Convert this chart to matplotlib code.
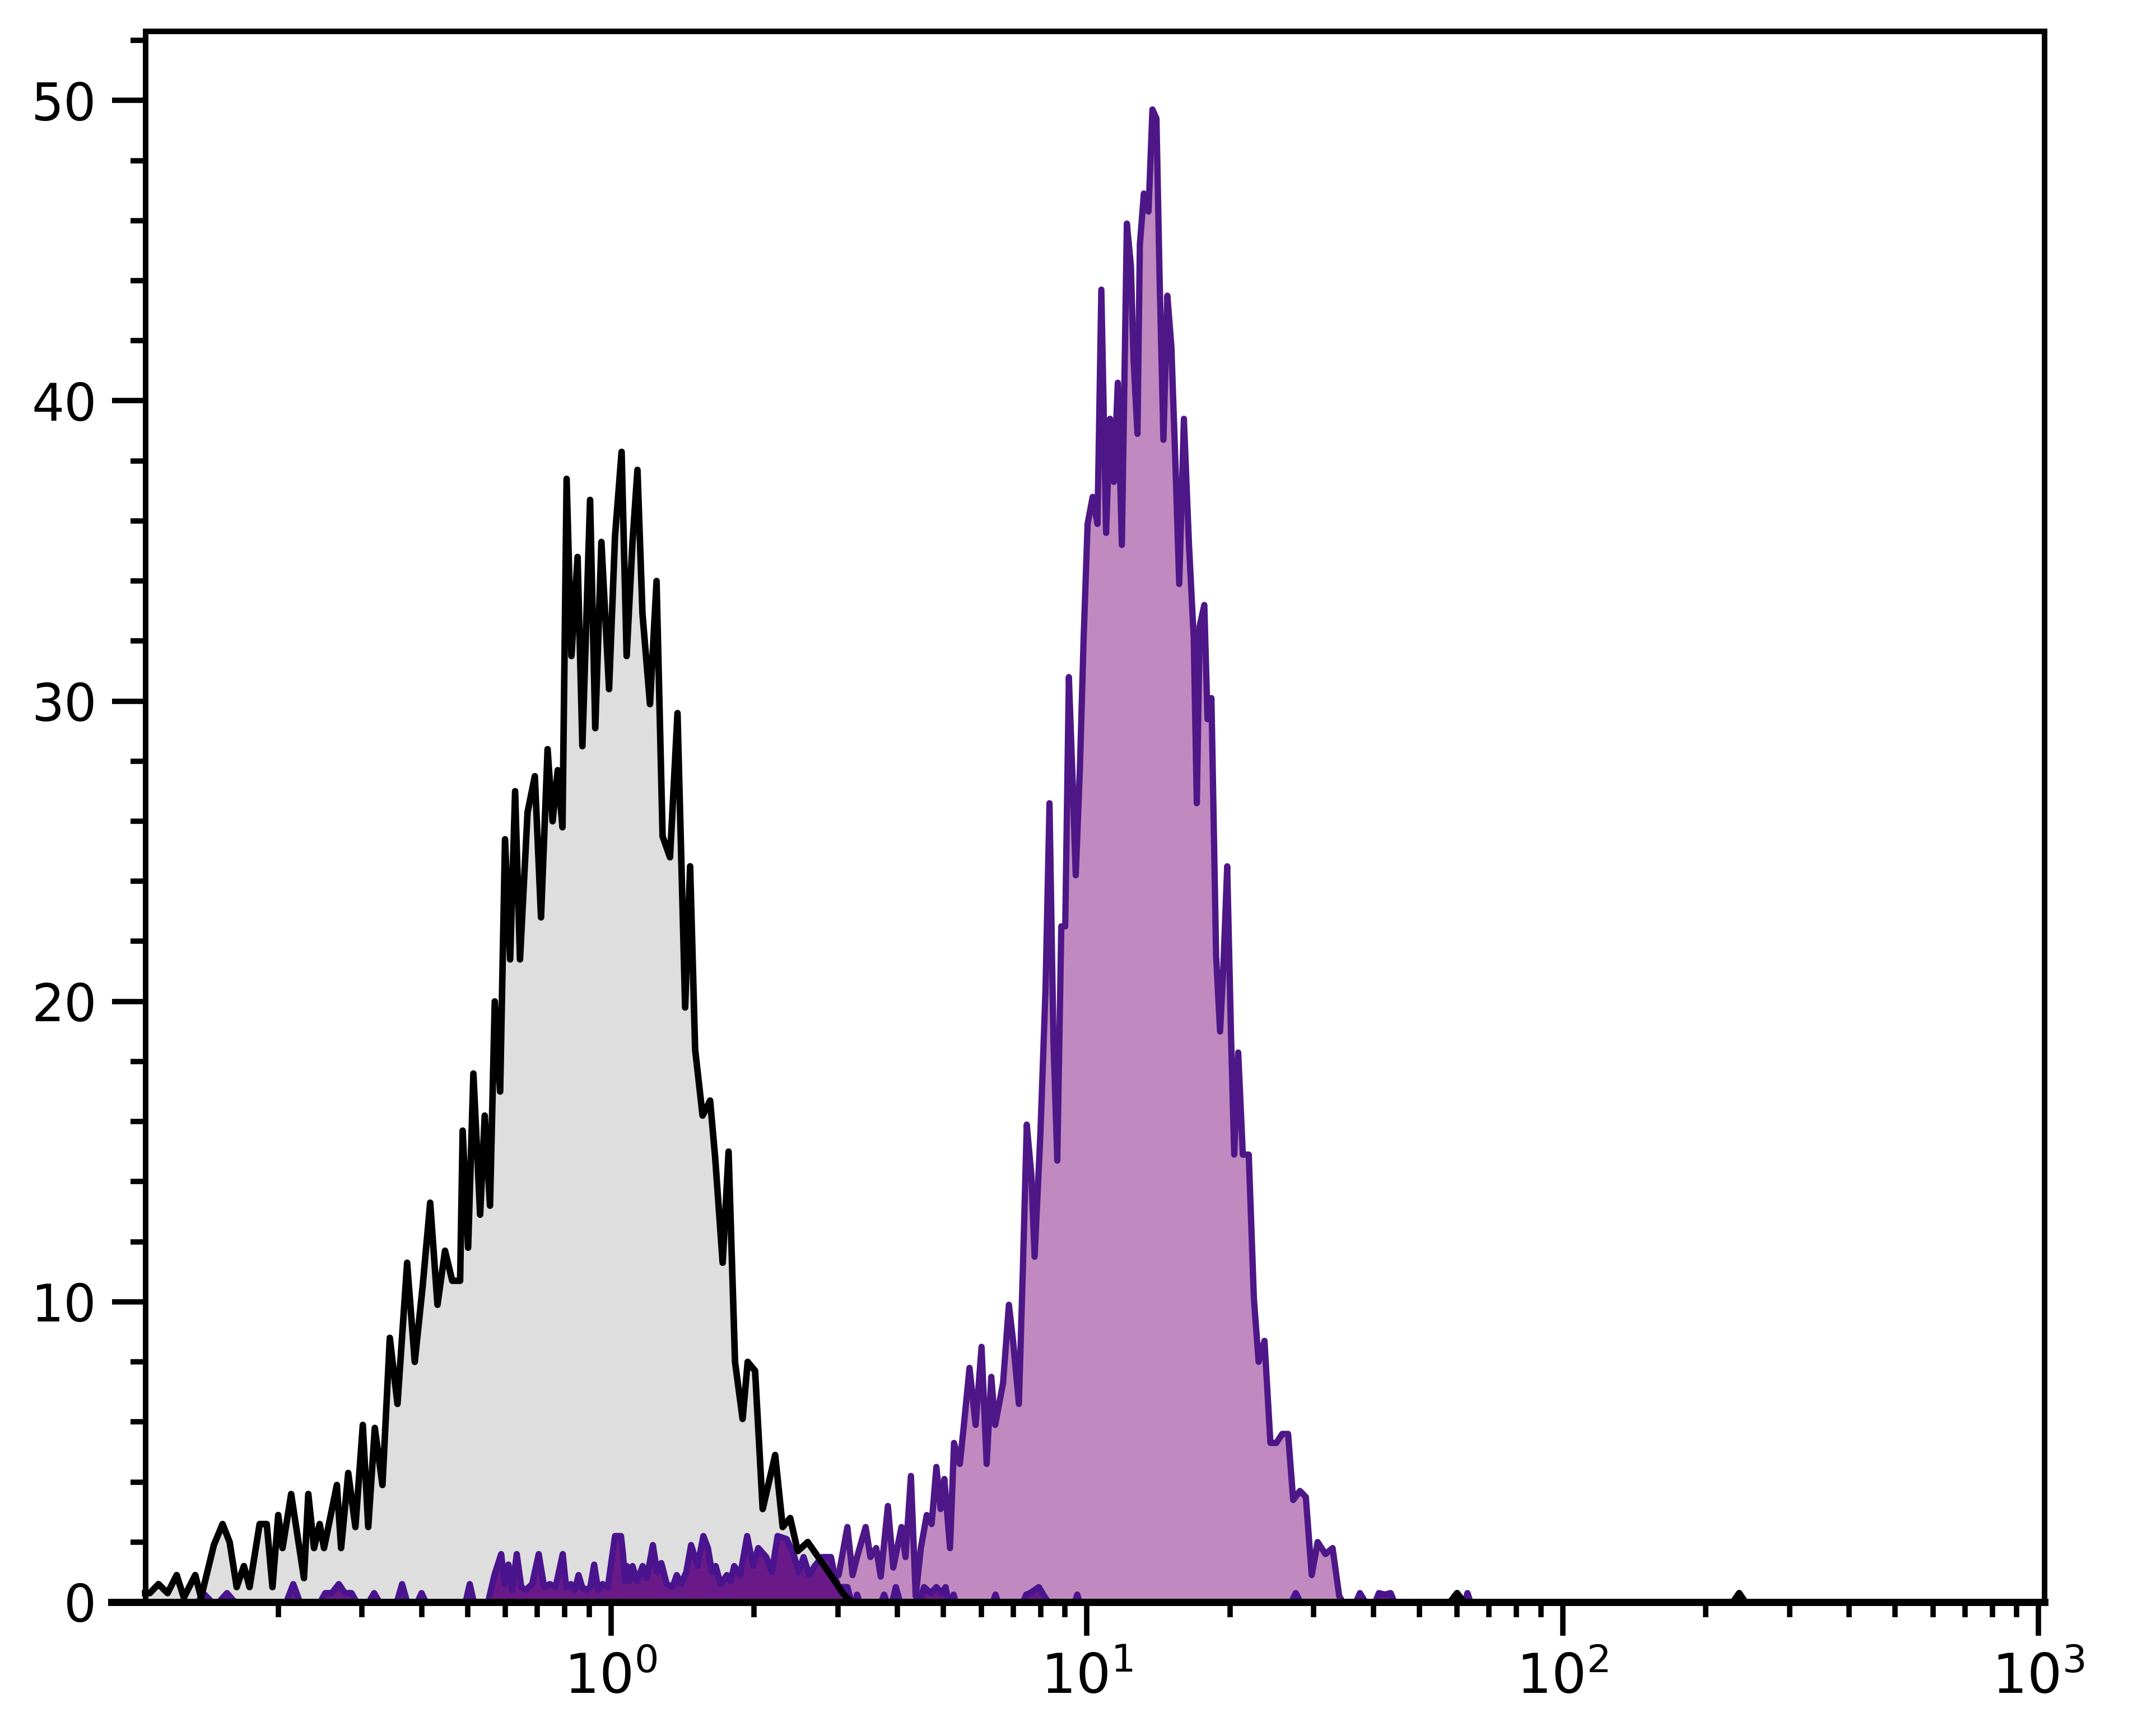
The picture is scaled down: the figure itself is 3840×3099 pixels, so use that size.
import matplotlib
matplotlib.use('Agg')
from matplotlib import pyplot as plt
from matplotlib.ticker import FixedLocator, NullFormatter

plt.rcParams['font.family'] = ['DejaVu Sans']
plt.rcParams['mathtext.fontset'] = 'custom'
plt.rcParams['mathtext.rm'] = 'Liberation Sans'
plt.rcParams['mathtext.it'] = 'Liberation Sans:italic'
plt.rcParams['mathtext.bf'] = 'Liberation Sans:bold'
plt.rcParams['mathtext.default'] = 'regular'

# control sample (grey histogram, black outline)
ctrl_x = [0.105, 0.1074, 0.112, 0.117, 0.1223, 0.1266, 0.1338, 0.1376, 0.1464, 0.1527,
          0.158, 0.1635, 0.1693, 0.174, 0.1827, 0.1891, 0.1944, 0.1999, 0.2041, 0.2128,
          0.2264, 0.2312, 0.2377, 0.2443, 0.2495, 0.2655, 0.271, 0.2805, 0.2904, 0.301,
          0.309, 0.319, 0.331, 0.343, 0.356, 0.373, 0.387, 0.402, 0.417, 0.432,
          0.448, 0.464, 0.482, 0.488, 0.501, 0.514, 0.531, 0.543, 0.557, 0.570,
          0.585, 0.599, 0.614, 0.629, 0.644, 0.668, 0.692, 0.713, 0.736, 0.754,
          0.773, 0.791, 0.807, 0.826, 0.851, 0.871, 0.904, 0.927, 0.955, 0.991,
          1.020, 1.053, 1.079, 1.110, 1.137, 1.165, 1.208, 1.247, 1.284, 1.331,
          1.380, 1.432, 1.467, 1.503, 1.558, 1.616, 1.656, 1.717, 1.767, 1.823,
          1.891, 1.938, 2.009, 2.084, 2.214, 2.296, 2.381, 2.469, 2.592, 2.754,
          2.925, 3.07, 3.2, 58.0, 60.0, 62.0, 228.0, 235.0, 242.0]
ctrl_y = [0.3, 0.3, 0.6, 0.3, 0.9, 0.15, 0.9, 0.15, 1.9, 2.6,
          2.0, 0.5, 1.2, 0.5, 2.6, 2.6, 0.5, 2.9, 1.8, 3.6,
          0.8, 3.6, 1.8, 2.6, 1.8, 3.9, 1.8, 4.3, 2.5, 5.9,
          2.5, 5.8, 3.9, 8.8, 6.6, 11.3, 8.0, 10.5, 13.3, 9.9,
          11.7, 10.7, 10.7, 15.7, 11.8, 17.6, 12.9, 16.2, 13.2, 20.0,
          17.0, 25.4, 21.4, 27.0, 21.4, 26.3, 27.5, 22.8, 28.4, 26.0,
          27.7, 25.8, 37.4, 31.5, 34.8, 28.5, 36.7, 29.1, 35.3, 30.4,
          35.5, 38.3, 31.5, 35.3, 37.7, 32.9, 29.9, 34.0, 25.5, 24.8,
          29.6, 19.8, 24.5, 18.4, 16.2, 16.7, 14.8, 11.3, 15.0, 8.0,
          6.1, 8.0, 7.7, 3.1, 4.9, 2.5, 2.8, 1.7, 2.0, 1.4,
          0.8, 0.3, 0.0, 0.0, 0.3, 0.0, 0.0, 0.3, 0.0]

# stained sample (light purple histogram)
stain_x = [2.60, 2.75, 2.85, 3.01, 3.14, 3.22, 3.29, 3.43, 3.51, 3.61,
           3.69, 3.82, 3.92, 4.08, 4.16, 4.27, 4.37, 4.48, 4.61, 4.72,
           4.83, 4.93, 5.02, 5.16, 5.26, 5.41, 5.51, 5.67, 5.84, 6.01,
           6.16, 6.30, 6.42, 6.67, 6.86, 7.00, 7.20, 7.34, 7.48, 7.65,
           7.77, 7.99, 8.19, 8.35, 8.51, 8.67, 8.84, 9.01, 9.17, 9.34,
           9.48, 9.67, 9.85, 10.04, 10.29, 10.53, 10.73, 10.98, 11.19, 11.40,
           11.62, 11.85, 12.14, 12.38, 12.54, 12.78, 12.93, 13.18, 13.48, 13.74,
           14.01, 14.22, 14.49, 14.77, 15.06, 15.35, 15.64, 16.00, 16.40, 16.78,
           17.03, 17.27, 17.66, 17.94, 18.28, 18.70, 19.06, 19.36, 19.73, 20.11,
           20.41, 20.81, 21.28, 21.90, 22.45, 22.97, 23.63, 24.32, 25.02, 25.75,
           26.49, 27.15, 28.05, 28.86, 29.70, 30.56, 31.74, 32.85, 33.93, 34.5]
stain_y = [0.0, 0.3, 0.8, 0.9, 2.5, 0.9, 1.5, 2.5, 1.5, 1.8,
           0.85, 3.2, 1.15, 2.5, 1.5, 4.2, 0.2, 1.8, 2.9, 2.6,
           4.5, 3.1, 4.1, 1.8, 5.3, 4.6, 5.8, 7.8, 5.9, 8.5,
           4.6, 7.5, 5.9, 7.3, 9.9, 8.7, 6.6, 11.1, 15.9, 14.2,
           11.5, 15.6, 20.4, 26.6, 18.7, 14.7, 22.5, 22.5, 30.8, 27.3,
           24.2, 27.7, 32.1, 35.9, 36.8, 35.9, 43.7, 35.6, 39.4, 37.3,
           40.6, 35.2, 45.9, 44.5, 41.4, 38.9, 45.2, 46.9, 46.3, 49.7,
           49.4, 44.2, 38.7, 43.5, 41.8, 38.0, 33.9, 39.4, 35.2, 32.1,
           26.6, 32.5, 33.2, 29.4, 30.1, 21.5, 19.0, 21.1, 24.5, 18.7,
           14.9, 18.3, 14.9, 14.9, 10.1, 8.0, 8.7, 5.3, 5.3, 5.6,
           5.6, 3.4, 3.7, 3.5, 0.9, 2.0, 1.6, 1.8, 0.2, 0.0]

# sparse dark purple background events
bg_x = [0.135, 0.140, 0.145, 0.150, 0.156, 0.162, 0.208, 0.215, 0.222, 0.245,
        0.251, 0.259, 0.268, 0.276, 0.285, 0.292, 0.310, 0.318, 0.326, 0.355,
        0.364, 0.373, 0.392, 0.400, 0.408, 0.495, 0.505, 0.515, 0.552, 0.569,
        0.588, 0.598, 0.609, 0.620, 0.634, 0.648, 0.662, 0.683, 0.705, 0.724,
        0.744, 0.765, 0.792, 0.805, 0.824, 0.840, 0.855, 0.870, 0.889, 0.905,
        0.922, 0.940, 0.960, 0.985, 1.02, 1.05, 1.06, 1.07, 1.08, 1.095,
        1.11, 1.135, 1.166, 1.19, 1.225, 1.25, 1.276, 1.31, 1.348, 1.375,
        1.404, 1.44, 1.474, 1.52, 1.564, 1.599, 1.630, 1.660, 1.70, 1.753,
        1.785, 1.816, 1.87, 1.933, 1.99, 2.04, 2.12, 2.18, 2.24, 2.34,
        2.42, 2.48, 2.54, 2.61, 2.68, 2.78, 2.90, 2.96, 3.01, 3.07,
        3.14, 3.2, 3.26, 3.29, 3.33, 3.70, 3.75, 3.80, 3.90, 3.97,
        4.05, 4.45, 4.55, 4.70, 4.83, 4.95, 5.05, 5.12, 5.2, 5.25,
        5.3, 6.35, 6.43, 6.5, 7.35, 7.46, 7.6, 7.93, 8.1, 8.3,
        9.45, 9.55, 9.65, 26.9, 27.5, 28.1, 36.8, 37.5, 38.5, 40.4,
        41.1, 42.3, 43.5, 44.3, 62.3, 63.1, 64.0]
bg_y = [0.0, 0.25, 0.0, 0.0, 0.3, 0.0, 0.0, 0.6, 0.0, 0.0,
        0.3, 0.3, 0.6, 0.3, 0.3, 0.0, 0.0, 0.3, 0.0, 0.0,
        0.6, 0.0, 0.0, 0.3, 0.0, 0.0, 0.6, 0.0, 0.0, 0.9,
        1.6, 0.6, 1.25, 0.4, 1.6, 0.5, 0.4, 0.6, 1.6, 0.5,
        0.6, 0.5, 1.6, 0.5, 0.6, 0.4, 0.9, 0.5, 0.4, 0.5,
        1.25, 0.4, 0.6, 0.5, 2.2, 2.2, 1.6, 0.7, 1.2, 0.7,
        1.2, 0.7, 1.2, 0.8, 1.9, 1.0, 1.3, 0.6, 0.5, 0.9,
        0.6, 1.0, 1.9, 1.2, 2.2, 1.8, 1.0, 1.2, 0.6, 0.9,
        0.7, 1.2, 0.9, 2.2, 1.2, 1.8, 1.5, 1.0, 2.2, 2.1,
        1.6, 1.0, 1.5, 0.9, 1.2, 1.5, 1.5, 0.8, 0.5, 0.5,
        0.5, 0.0, 0.0, 0.25, 0.0, 0.0, 0.25, 0.0, 0.0, 0.5,
        0.0, 0.0, 0.5, 0.3, 0.5, 0.3, 0.5, 0.0, 0.0, 0.25,
        0.0, 0.0, 0.25, 0.0, 0.0, 0.25, 0.3, 0.5, 0.25, 0.0,
        0.0, 0.25, 0.0, 0.0, 0.3, 0.0, 0.0, 0.3, 0.0, 0.0,
        0.3, 0.25, 0.3, 0.0, 0.0, 0.3, 0.0]

x_major = [1, 10, 100, 1000]
x_major_labels = ['$10^{0}$', '$10^{1}$', '$10^{2}$', '$10^{3}$']
x_minor = [m * 10.0 ** e for e in range(-1, 3) for m in range(2, 10)]
y_major = [0, 10, 20, 30, 40, 50]
y_minor = list(range(0, 53, 2))

W, H = 3840, 3099
fig = plt.figure(figsize=(W / 300, H / 300), dpi=300)
ax = fig.add_axes([199 / W, 1 - 2860 / H, (3650 - 199) / W, (2860 - 56) / H])
ax.set_xscale('log')
ax.set_xlim(0.0892, 1030)
ax.set_ylim(0, 52.3)

ax.fill_between(ctrl_x, 0, ctrl_y, color='#DEDEDE', lw=0, zorder=1)
ax.fill_between(stain_x, 0, stain_y, color='#C08AC0', lw=0, zorder=2)
ax.plot(stain_x, stain_y, color='#4E1787', lw=2.7, zorder=3)
ax.fill_between(bg_x, 0, bg_y, color='#6A1A88', lw=0, zorder=4)
ax.plot(bg_x, bg_y, color='#4A148E', lw=2.7, zorder=5)
ax.plot(ctrl_x, ctrl_y, color='black', lw=2.8, zorder=6)

left_edge = 0.1053
ax.spines['left'].set_position(('data', left_edge))
ax.spines['top'].set_bounds(left_edge, 1030)
for side, w in [('left', 2.4), ('right', 2.4), ('top', 2.4), ('bottom', 3.1)]:
    ax.spines[side].set_linewidth(w)
    ax.spines[side].set_zorder(10)

ax.xaxis.set_major_locator(FixedLocator(x_major))
ax.set_xticklabels(x_major_labels)
ax.xaxis.set_minor_locator(FixedLocator(x_minor))
ax.xaxis.set_minor_formatter(NullFormatter())
ax.set_yticks(y_major)
ax.set_yticks(y_minor, minor=True)

ax.tick_params(axis='both', which='major', length=14.5, width=2.3,
               direction='out', top=False, right=False, pad=6.5)
ax.tick_params(axis='both', which='minor', length=6.5, width=2.3,
               direction='out', top=False, right=False)
ax.tick_params(axis='y', which='major', labelsize=22)
ax.tick_params(axis='x', which='major', labelsize=23.5)

fig.savefig('out.png', dpi=300, facecolor='white')
